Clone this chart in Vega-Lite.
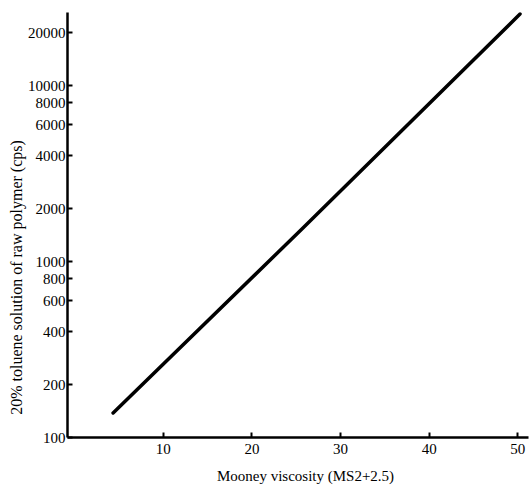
{
  "$schema": "https://vega.github.io/schema/vega-lite/v6.json",
  "autosize": "none",
  "width": 461,
  "height": 425,
  "padding": {"left": 67, "top": 12, "right": 4, "bottom": 54},
  "background": "white",
  "config": {
    "view": {"stroke": null},
    "axis": {"grid": false, "domainColor": "black", "tickColor": "black", "labelColor": "black", "titleColor": "black", "labelFont": "Liberation Serif", "titleFont": "Liberation Serif", "labelFontSize": 15, "titleFontSize": 15, "titleFontWeight": "normal", "domainWidth": 2.5, "tickWidth": 2}
  },
  "data": {"values": [
    {"mooney": 4.4, "viscosity": 137},
    {"mooney": 25.7, "viscosity": 1520},
    {"mooney": 50.3, "viscosity": 25300}
  ]},
  "mark": {"type": "line", "color": "black", "strokeWidth": 3.5, "strokeCap": "round"},
  "encoding": {
    "x": {"field": "mooney", "type": "quantitative", "scale": {"domain": [-0.8, 51.2], "nice": false, "zero": false},
      "axis": {"title": "Mooney viscosity (MS2+2.5)", "values": [10, 20, 30, 40, 50], "tickSize": -5, "labelPadding": 9, "titlePadding": 12, "titleX": 238}},
    "y": {"field": "viscosity", "type": "quantitative", "scale": {"type": "log", "domain": [100, 26000], "nice": false},
      "axis": {"title": "20% toluene solution of raw polymer (cps)", "values": [100, 200, 400, 600, 800, 1000, 2000, 4000, 6000, 8000, 10000, 20000], "tickSize": -5, "labelPadding": 7, "titleY": 265, "titleX": -43, "titleFontSize": 16, "format": "d"}}
  }
}
